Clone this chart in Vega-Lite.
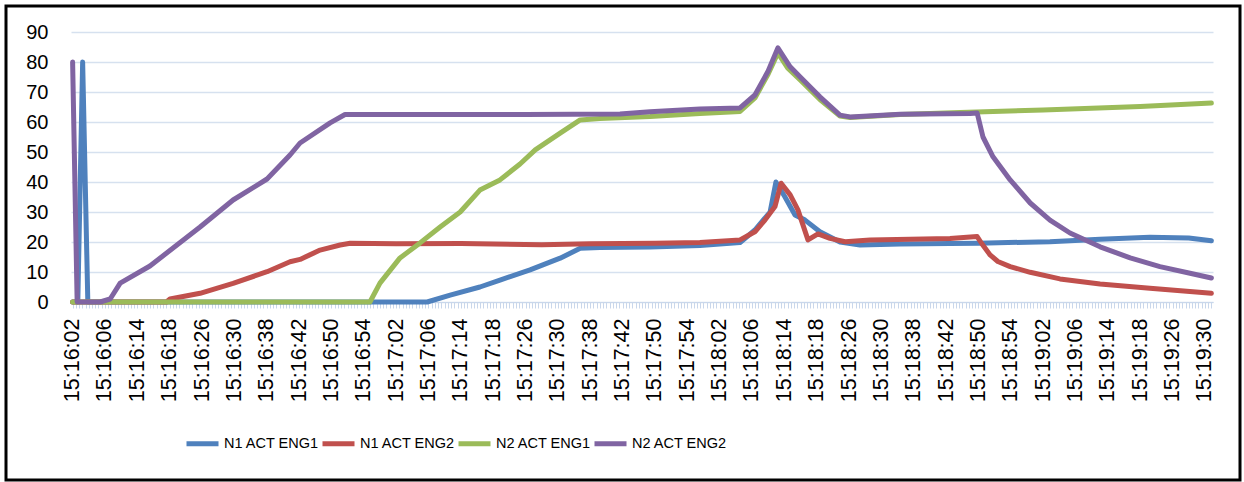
{
  "$schema": "https://vega.github.io/schema/vega-lite/v6.json",
  "width": 1234,
  "height": 474,
  "autosize": {"type": "none"},
  "padding": {"left": 6, "top": 6, "right": 4, "bottom": 2},
  "background": "white",
  "config": {
    "view": {"stroke": "black", "strokeWidth": 3, "fill": "white"},
    "font": "Liberation Sans"
  },
  "data": {
    "values": [
      {"series": "N1 ACT ENG1", "idx": 0, "value": 0},
      {"series": "N1 ACT ENG1", "idx": 0.16, "value": 0},
      {"series": "N1 ACT ENG1", "idx": 0.31, "value": 80},
      {"series": "N1 ACT ENG1", "idx": 0.47, "value": 0},
      {"series": "N1 ACT ENG1", "idx": 10.96, "value": 0},
      {"series": "N1 ACT ENG1", "idx": 11.67, "value": 2.3},
      {"series": "N1 ACT ENG1", "idx": 12.59, "value": 5},
      {"series": "N1 ACT ENG1", "idx": 13.21, "value": 7.3},
      {"series": "N1 ACT ENG1", "idx": 14.14, "value": 10.7},
      {"series": "N1 ACT ENG1", "idx": 15.07, "value": 14.6},
      {"series": "N1 ACT ENG1", "idx": 15.69, "value": 17.9},
      {"series": "N1 ACT ENG1", "idx": 16.3, "value": 18.2},
      {"series": "N1 ACT ENG1", "idx": 17.85, "value": 18.3},
      {"series": "N1 ACT ENG1", "idx": 19.39, "value": 18.8},
      {"series": "N1 ACT ENG1", "idx": 20.63, "value": 19.8},
      {"series": "N1 ACT ENG1", "idx": 21.09, "value": 24},
      {"series": "N1 ACT ENG1", "idx": 21.56, "value": 30},
      {"series": "N1 ACT ENG1", "idx": 21.74, "value": 40},
      {"series": "N1 ACT ENG1", "idx": 22.02, "value": 35},
      {"series": "N1 ACT ENG1", "idx": 22.33, "value": 29},
      {"series": "N1 ACT ENG1", "idx": 22.64, "value": 27.3},
      {"series": "N1 ACT ENG1", "idx": 23.1, "value": 23.4},
      {"series": "N1 ACT ENG1", "idx": 23.72, "value": 20},
      {"series": "N1 ACT ENG1", "idx": 24.34, "value": 19},
      {"series": "N1 ACT ENG1", "idx": 25.58, "value": 19.3},
      {"series": "N1 ACT ENG1", "idx": 27.12, "value": 19.5},
      {"series": "N1 ACT ENG1", "idx": 28.0, "value": 19.6},
      {"series": "N1 ACT ENG1", "idx": 30.21, "value": 20.1},
      {"series": "N1 ACT ENG1", "idx": 31.76, "value": 20.9},
      {"series": "N1 ACT ENG1", "idx": 33.3, "value": 21.6},
      {"series": "N1 ACT ENG1", "idx": 34.5, "value": 21.3},
      {"series": "N1 ACT ENG1", "idx": 35.2, "value": 20.4},

      {"series": "N1 ACT ENG2", "idx": 0, "value": 0},
      {"series": "N1 ACT ENG2", "idx": 2.9, "value": 0},
      {"series": "N1 ACT ENG2", "idx": 3.01, "value": 1},
      {"series": "N1 ACT ENG2", "idx": 3.94, "value": 2.9},
      {"series": "N1 ACT ENG2", "idx": 4.96, "value": 6.2},
      {"series": "N1 ACT ENG2", "idx": 6.01, "value": 10.1},
      {"series": "N1 ACT ENG2", "idx": 6.72, "value": 13.4},
      {"series": "N1 ACT ENG2", "idx": 7.03, "value": 14.2},
      {"series": "N1 ACT ENG2", "idx": 7.65, "value": 17.3},
      {"series": "N1 ACT ENG2", "idx": 8.27, "value": 19},
      {"series": "N1 ACT ENG2", "idx": 8.58, "value": 19.6},
      {"series": "N1 ACT ENG2", "idx": 10, "value": 19.4},
      {"series": "N1 ACT ENG2", "idx": 12, "value": 19.5},
      {"series": "N1 ACT ENG2", "idx": 14.5, "value": 19.1},
      {"series": "N1 ACT ENG2", "idx": 16, "value": 19.4},
      {"series": "N1 ACT ENG2", "idx": 18, "value": 19.6},
      {"series": "N1 ACT ENG2", "idx": 19.39, "value": 19.8},
      {"series": "N1 ACT ENG2", "idx": 20.63, "value": 20.7},
      {"series": "N1 ACT ENG2", "idx": 21.09, "value": 23.4},
      {"series": "N1 ACT ENG2", "idx": 21.4, "value": 27.3},
      {"series": "N1 ACT ENG2", "idx": 21.71, "value": 31.8},
      {"series": "N1 ACT ENG2", "idx": 21.9, "value": 39.6},
      {"series": "N1 ACT ENG2", "idx": 22.18, "value": 35.7},
      {"series": "N1 ACT ENG2", "idx": 22.42, "value": 30.7},
      {"series": "N1 ACT ENG2", "idx": 22.73, "value": 20.7},
      {"series": "N1 ACT ENG2", "idx": 23.04, "value": 22.7},
      {"series": "N1 ACT ENG2", "idx": 23.41, "value": 21.2},
      {"series": "N1 ACT ENG2", "idx": 23.88, "value": 20.1},
      {"series": "N1 ACT ENG2", "idx": 24.65, "value": 20.7},
      {"series": "N1 ACT ENG2", "idx": 27.12, "value": 21.2},
      {"series": "N1 ACT ENG2", "idx": 27.96, "value": 21.8},
      {"series": "N1 ACT ENG2", "idx": 28.1, "value": 19.5},
      {"series": "N1 ACT ENG2", "idx": 28.36, "value": 15.7},
      {"series": "N1 ACT ENG2", "idx": 28.6, "value": 13.5},
      {"series": "N1 ACT ENG2", "idx": 28.98, "value": 11.8},
      {"series": "N1 ACT ENG2", "idx": 29.6, "value": 9.9},
      {"series": "N1 ACT ENG2", "idx": 30.52, "value": 7.7},
      {"series": "N1 ACT ENG2", "idx": 31.76, "value": 6},
      {"series": "N1 ACT ENG2", "idx": 33.3, "value": 4.6},
      {"series": "N1 ACT ENG2", "idx": 35.2, "value": 2.9},

      {"series": "N2 ACT ENG1", "idx": 0, "value": 0},
      {"series": "N2 ACT ENG1", "idx": 9.19, "value": 0},
      {"series": "N2 ACT ENG1", "idx": 9.5, "value": 6.3},
      {"series": "N2 ACT ENG1", "idx": 10.12, "value": 14.7},
      {"series": "N2 ACT ENG1", "idx": 10.74, "value": 19.7},
      {"series": "N2 ACT ENG1", "idx": 11.36, "value": 25},
      {"series": "N2 ACT ENG1", "idx": 11.98, "value": 30},
      {"series": "N2 ACT ENG1", "idx": 12.59, "value": 37.3},
      {"series": "N2 ACT ENG1", "idx": 13.21, "value": 40.7},
      {"series": "N2 ACT ENG1", "idx": 13.83, "value": 46},
      {"series": "N2 ACT ENG1", "idx": 14.3, "value": 50.7},
      {"series": "N2 ACT ENG1", "idx": 15.07, "value": 56.3},
      {"series": "N2 ACT ENG1", "idx": 15.69, "value": 60.7},
      {"series": "N2 ACT ENG1", "idx": 16.3, "value": 61.2},
      {"series": "N2 ACT ENG1", "idx": 17.85, "value": 61.8},
      {"series": "N2 ACT ENG1", "idx": 19.39, "value": 62.8},
      {"series": "N2 ACT ENG1", "idx": 20.63, "value": 63.5},
      {"series": "N2 ACT ENG1", "idx": 21.09, "value": 68},
      {"series": "N2 ACT ENG1", "idx": 21.5, "value": 76},
      {"series": "N2 ACT ENG1", "idx": 21.8, "value": 83},
      {"series": "N2 ACT ENG1", "idx": 22.1, "value": 78},
      {"series": "N2 ACT ENG1", "idx": 22.49, "value": 74},
      {"series": "N2 ACT ENG1", "idx": 23.1, "value": 67.5},
      {"series": "N2 ACT ENG1", "idx": 23.72, "value": 62},
      {"series": "N2 ACT ENG1", "idx": 24.03, "value": 61.5},
      {"series": "N2 ACT ENG1", "idx": 25.58, "value": 62.5},
      {"series": "N2 ACT ENG1", "idx": 27.43, "value": 63.2},
      {"series": "N2 ACT ENG1", "idx": 30, "value": 64},
      {"series": "N2 ACT ENG1", "idx": 33, "value": 65.2},
      {"series": "N2 ACT ENG1", "idx": 35.2, "value": 66.3},

      {"series": "N2 ACT ENG2", "idx": 0, "value": 80},
      {"series": "N2 ACT ENG2", "idx": 0.14, "value": 0},
      {"series": "N2 ACT ENG2", "idx": 0.85, "value": 0},
      {"series": "N2 ACT ENG2", "idx": 1.16, "value": 1},
      {"series": "N2 ACT ENG2", "idx": 1.47, "value": 6.3},
      {"series": "N2 ACT ENG2", "idx": 2.39, "value": 12},
      {"series": "N2 ACT ENG2", "idx": 3.94, "value": 25},
      {"series": "N2 ACT ENG2", "idx": 4.96, "value": 34},
      {"series": "N2 ACT ENG2", "idx": 6.01, "value": 41},
      {"series": "N2 ACT ENG2", "idx": 6.72, "value": 49},
      {"series": "N2 ACT ENG2", "idx": 7.03, "value": 53},
      {"series": "N2 ACT ENG2", "idx": 7.96, "value": 59.7},
      {"series": "N2 ACT ENG2", "idx": 8.42, "value": 62.5},
      {"series": "N2 ACT ENG2", "idx": 10, "value": 62.5},
      {"series": "N2 ACT ENG2", "idx": 14, "value": 62.5},
      {"series": "N2 ACT ENG2", "idx": 16.92, "value": 62.7},
      {"series": "N2 ACT ENG2", "idx": 17.85, "value": 63.4},
      {"series": "N2 ACT ENG2", "idx": 19.39, "value": 64.3},
      {"series": "N2 ACT ENG2", "idx": 20.63, "value": 64.7},
      {"series": "N2 ACT ENG2", "idx": 21.09, "value": 69},
      {"series": "N2 ACT ENG2", "idx": 21.5, "value": 77},
      {"series": "N2 ACT ENG2", "idx": 21.8, "value": 84.7},
      {"series": "N2 ACT ENG2", "idx": 22.18, "value": 78.4},
      {"series": "N2 ACT ENG2", "idx": 22.49, "value": 75},
      {"series": "N2 ACT ENG2", "idx": 23.1, "value": 68.4},
      {"series": "N2 ACT ENG2", "idx": 23.72, "value": 62.3},
      {"series": "N2 ACT ENG2", "idx": 24.03, "value": 61.7},
      {"series": "N2 ACT ENG2", "idx": 25.58, "value": 62.6},
      {"series": "N2 ACT ENG2", "idx": 27.74, "value": 62.8},
      {"series": "N2 ACT ENG2", "idx": 27.96, "value": 63},
      {"series": "N2 ACT ENG2", "idx": 28.14, "value": 55},
      {"series": "N2 ACT ENG2", "idx": 28.45, "value": 48.4},
      {"series": "N2 ACT ENG2", "idx": 28.98, "value": 40.7},
      {"series": "N2 ACT ENG2", "idx": 29.6, "value": 33},
      {"series": "N2 ACT ENG2", "idx": 30.21, "value": 27.3},
      {"series": "N2 ACT ENG2", "idx": 30.83, "value": 23},
      {"series": "N2 ACT ENG2", "idx": 31.76, "value": 18.4},
      {"series": "N2 ACT ENG2", "idx": 32.69, "value": 14.7},
      {"series": "N2 ACT ENG2", "idx": 33.61, "value": 11.8},
      {"series": "N2 ACT ENG2", "idx": 34.54, "value": 9.6},
      {"series": "N2 ACT ENG2", "idx": 35.2, "value": 8}
    ]
  },
  "mark": {"type": "line", "strokeWidth": 5, "strokeCap": "round", "strokeJoin": "round"},
  "encoding": {
    "x": {
      "field": "idx",
      "type": "quantitative",
      "scale": {"domain": [-0.05, 35.25], "range": [65, 1207], "nice": false, "zero": false},
      "axis": {
        "title": null,
        "grid": false,
        "tickCount": 353,
        "labelExpr": "abs(datum.value - round(datum.value)) < 0.01 ? ['15:16:02','15:16:06','15:16:14','15:16:18','15:16:26','15:16:30','15:16:38','15:16:42','15:16:50','15:16:54','15:17:02','15:17:06','15:17:14','15:17:18','15:17:26','15:17:30','15:17:38','15:17:42','15:17:50','15:17:54','15:18:02','15:18:06','15:18:14','15:18:18','15:18:26','15:18:30','15:18:38','15:18:42','15:18:50','15:18:54','15:19:02','15:19:06','15:19:14','15:19:18','15:19:26','15:19:30'][round(datum.value)] : ''",
        "labelAngle": 270,
        "labelFont": "Liberation Sans",
        "labelFontSize": 21.5,
        "labelColor": "black",
        "labelPadding": 10,
        "tickSize": 6,
        "tickColor": "#C9D7EB",
        "domainColor": "#C9D7EB",
        "offset": -178,
        "labelOverlap": false,
        "labelFlush": false,
        "labelBound": false
      }
    },
    "y": {
      "field": "value",
      "type": "quantitative",
      "scale": {"domain": [0, 90], "range": [296, 26], "nice": false},
      "axis": {
        "title": null,
        "values": [0, 10, 20, 30, 40, 50, 60, 70, 80, 90],
        "ticks": false,
        "tickSize": 0,
        "domain": false,
        "grid": true,
        "gridColor": "#D6E1EF",
        "gridWidth": 1.5,
        "labelFont": "Liberation Sans",
        "labelFontSize": 20,
        "labelColor": "black",
        "labelPadding": 23,
        "offset": -65
      }
    },
    "color": {
      "field": "series",
      "type": "nominal",
      "sort": ["N1 ACT ENG1", "N1 ACT ENG2", "N2 ACT ENG1", "N2 ACT ENG2"],
      "scale": {"range": ["#4F81BD", "#C0504D", "#9BBB59", "#8064A2"]},
      "legend": {
        "title": null,
        "orient": "none",
        "legendX": 178,
        "legendY": 419,
        "direction": "horizontal",
        "columns": 4,
        "symbolType": "stroke",
        "symbolSize": 1024,
        "symbolStrokeWidth": 5,
        "labelFont": "Liberation Sans",
        "labelFontSize": 14.5,
        "labelColor": "black",
        "labelOffset": 3,
        "columnPadding": -12,
        "padding": 0
      }
    }
  }
}
